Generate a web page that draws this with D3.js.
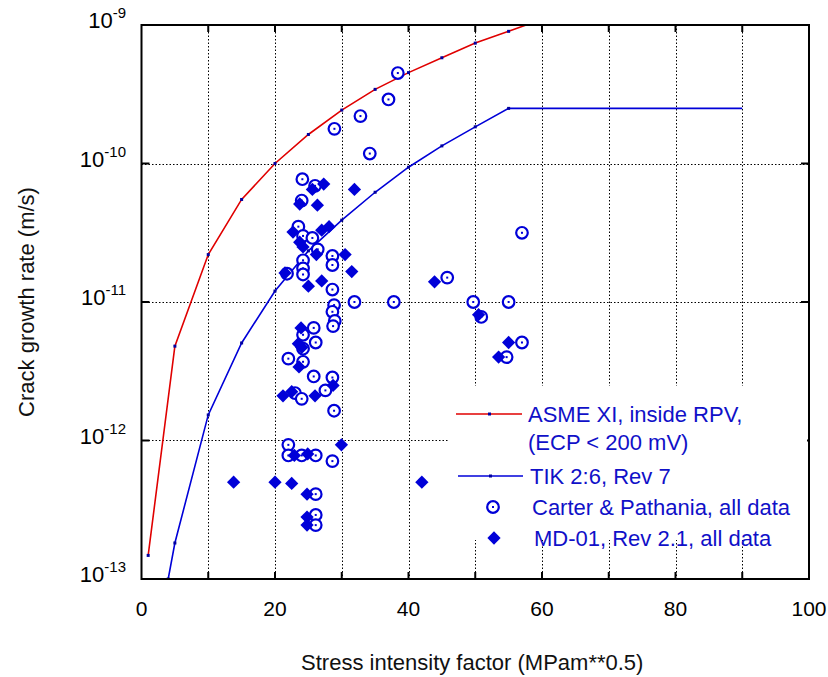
<!DOCTYPE html>
<html lang="en">
  <head>
    <title>Crack growth rate vs stress intensity factor</title>
    <script src="https://d3js.org/d3.v7.min.js"></script>
    <style>
      body { margin: 0; background: #fff; }
      text { font-family: "Liberation Sans", Arial, sans-serif; }
    </style>
  </head>
  <body>
    <div id="content"></div>
    <script>
      // ASME XI, inside RPV (ECP < 200 mV) reference curve
      const asmeK = [1, 5, 10, 15, 20, 25, 30, 35, 40, 45, 50, 55, 60];
      const asmeRate = [1.48e-13, 4.8e-12, 2.2e-11, 5.5e-11, 1.0e-10, 1.62e-10,
        2.43e-10, 3.43e-10, 4.53e-10, 5.8e-10, 7.4e-10, 9.0e-10, 1.1e-9];

      // TIK 2:6, Rev 7 curve
      const tikK = [4, 5, 10, 15, 20, 25, 30, 35, 40, 45, 50, 55, 90];
      const tikRate = [1.0e-13, 1.82e-13, 1.53e-12, 5.06e-12, 1.2e-11, 2.34e-11,
        3.9e-11, 6.2e-11, 9.4e-11, 1.34e-10, 1.84e-10, 2.5e-10, 2.5e-10];

      // Carter & Pathania, all data
      const carterK = [38.4, 37, 32.8, 28.9, 34.2, 24.1, 26.0, 24.0, 23.5, 24.2,
        25.6, 26.4, 28.6, 28.6, 24.2, 24.2, 24.2, 21.8, 28.6, 31.9,
        28.85, 28.6, 28.95, 28.7, 25.8, 24.2, 26.1, 24.2, 22.0, 24.2,
        25.8, 28.6, 27.55, 23.0, 24.0, 28.85, 22.0, 22.0, 24.0, 26.1,
        28.6, 26.1, 26.1, 26.1, 57, 45.8, 37.8, 49.7, 55, 50.9, 57, 54.7];
      const carterRate = [4.5e-10, 2.9e-10, 2.2e-10, 1.78e-10, 1.18e-10, 7.7e-11, 6.9e-11, 5.4e-11, 3.5e-11, 3.0e-11,
        2.9e-11, 2.4e-11, 2.15e-11, 1.85e-11, 2.0e-11, 1.75e-11, 1.58e-11, 1.6e-11, 1.23e-11, 1.0e-11,
        9.5e-12, 8.5e-12, 7.3e-12, 6.7e-12, 6.5e-12, 5.8e-12, 5.1e-12, 4.6e-12, 3.9e-12, 3.7e-12,
        2.9e-12, 2.85e-12, 2.3e-12, 2.2e-12, 2.0e-12, 1.64e-12, 9.3e-13, 7.8e-13, 7.8e-13, 7.8e-13,
        7.1e-13, 4.1e-13, 2.9e-13, 2.45e-13, 3.16e-11, 1.5e-11, 1.0e-11, 1.0e-11, 1.0e-11, 7.8e-12, 5.1e-12, 4.0e-12];

      // MD-01, Rev 2.1, all data
      const mdK = [27.3, 25.6, 31.9, 23.7, 26.35, 22.7, 27.0, 28.1, 23.7, 24.2,
        26.2, 30.5, 31.5, 21.5, 27.0, 25.0, 43.9, 50.5, 55, 53.5,
        23.9, 23.5, 24.0, 23.6, 28.7, 21.2, 22.5, 26.0, 29.95, 22.9,
        24.9, 13.8, 20.0, 22.5, 42.0, 24.8, 24.8, 24.8];
      const mdRate = [7.1e-11, 6.5e-11, 6.5e-11, 5.1e-11, 5.0e-11, 3.2e-11, 3.3e-11, 3.5e-11, 2.7e-11, 2.5e-11,
        2.2e-11, 2.2e-11, 1.66e-11, 1.62e-11, 1.42e-11, 1.3e-11, 1.4e-11, 8.1e-12, 5.1e-12, 4.0e-12,
        6.5e-12, 5.0e-12, 4.7e-12, 3.4e-12, 2.5e-12, 2.1e-12, 2.25e-12, 2.1e-12, 9.3e-13, 7.8e-13,
        8.0e-13, 5.0e-13, 5.0e-13, 4.9e-13, 5.0e-13, 4.1e-13, 2.8e-13, 2.45e-13];

      const xTickLabels = [0, 20, 40, 60, 80, 100];
      const xGrid = [10, 20, 30, 40, 50, 60, 70, 80, 90];
      const yExponents = [-9, -10, -11, -12, -13];

      const legendLabels = [
        ["ASME XI, inside RPV,", "(ECP < 200 mV)"],
        ["TIK 2:6, Rev 7"],
        ["Carter & Pathania, all data"],
        ["MD-01, Rev 2.1, all data"],
      ];

      const blue = "#0000d8";
      const red = "#e00000";
      const textBlue = "#1010c8";

      const width = 828;
      const height = 677;
      const marginLeft = 141.5, plotRight = 809, marginTop = 25, plotBottom = 579;

      const x = d3.scaleLinear().domain([0, 100]).range([marginLeft, plotRight]);
      const y = d3.scaleLog().domain([1e-13, 1e-9]).range([plotBottom, marginTop]);

      const svg = d3
        .select("#content")
        .append("svg")
        .attr("width", width)
        .attr("height", height);

      svg.append("defs")
        .append("clipPath")
        .attr("id", "plot")
        .append("rect")
        .attr("x", marginLeft)
        .attr("y", marginTop)
        .attr("width", plotRight - marginLeft)
        .attr("height", plotBottom - marginTop);

      // dotted grid
      const grid = svg.append("g")
        .attr("stroke", "#000")
        .attr("stroke-width", 1)
        .attr("stroke-dasharray", "1.5,2");
      grid.selectAll("line.vx")
        .data(xGrid)
        .enter()
        .append("line")
        .attr("x1", (d) => Math.round(x(d)) + 0.5)
        .attr("x2", (d) => Math.round(x(d)) + 0.5)
        .attr("y1", marginTop)
        .attr("y2", plotBottom);
      grid.selectAll("line.hy")
        .data(yExponents.slice(1, 4))
        .enter()
        .append("line")
        .attr("x1", marginLeft)
        .attr("x2", plotRight)
        .attr("y1", (d) => Math.round(y(Math.pow(10, d))) + 0.5)
        .attr("y2", (d) => Math.round(y(Math.pow(10, d))) + 0.5);

      // tick marks inside the frame
      const ticks = svg.append("g").attr("stroke", "#000").attr("stroke-width", 2);
      xGrid.forEach((d) => {
        ticks.append("line").attr("x1", x(d)).attr("x2", x(d)).attr("y1", plotBottom).attr("y2", plotBottom - 7);
        ticks.append("line").attr("x1", x(d)).attr("x2", x(d)).attr("y1", marginTop).attr("y2", marginTop + 7);
      });
      yExponents.slice(1, 4).forEach((e) => {
        const yy = y(Math.pow(10, e));
        ticks.append("line").attr("x1", marginLeft).attr("x2", marginLeft + 8).attr("y1", yy).attr("y2", yy);
        ticks.append("line").attr("x1", plotRight).attr("x2", plotRight - 8).attr("y1", yy).attr("y2", yy);
      });

      // legend box hides the grid beneath it
      const legendX = 448, legendY = 386;
      svg.append("rect")
        .attr("x", legendX)
        .attr("y", legendY)
        .attr("width", plotRight - 2 - legendX)
        .attr("height", 154)
        .attr("fill", "#fff");

      const plot = svg.append("g").attr("clip-path", "url(#plot)");

      const line = d3.line()
        .x((d) => x(d[0]))
        .y((d) => y(d[1]));

      const asme = asmeK.map((k, i) => [k, asmeRate[i]]);
      const tik = tikK.map((k, i) => [k, tikRate[i]]);

      plot.append("path")
        .datum(asme)
        .attr("fill", "none")
        .attr("stroke", red)
        .attr("stroke-width", 1.6)
        .attr("d", line);
      plot.append("path")
        .datum(tik)
        .attr("fill", "none")
        .attr("stroke", blue)
        .attr("stroke-width", 1.6)
        .attr("d", line);

      // small node dots on the curves
      plot.selectAll("rect.node")
        .data(asme.concat(tik.slice(0, tik.length - 1)))
        .enter()
        .append("rect")
        .attr("x", (d) => x(d[0]) - 1.5)
        .attr("y", (d) => y(d[1]) - 1.5)
        .attr("width", 3)
        .attr("height", 3)
        .attr("fill", "#0000a0");

      const circleMark = (g, cx, cy) => {
        g.append("circle")
          .attr("cx", cx)
          .attr("cy", cy)
          .attr("r", 5.8)
          .attr("fill", "#fff")
          .attr("stroke", blue)
          .attr("stroke-width", 2.2);
        g.append("rect")
          .attr("x", cx - 1)
          .attr("y", cy - 1)
          .attr("width", 2)
          .attr("height", 2)
          .attr("fill", blue);
      };
      const diamond = d3.symbol(d3.symbolSquare, 88);
      const diamondMark = (g, cx, cy) => {
        g.append("path")
          .attr("d", diamond)
          .attr("transform", `translate(${cx},${cy}) rotate(45)`)
          .attr("fill", blue);
      };

      const marks = svg.append("g");
      carterK.forEach((k, i) => circleMark(marks, x(k), y(carterRate[i])));
      mdK.forEach((k, i) => diamondMark(marks, x(k), y(mdRate[i])));

      // frame
      svg.append("rect")
        .attr("x", marginLeft)
        .attr("y", marginTop)
        .attr("width", plotRight - marginLeft)
        .attr("height", plotBottom - marginTop)
        .attr("fill", "none")
        .attr("stroke", "#000")
        .attr("stroke-width", 2);

      // axis labels
      svg.append("g")
        .selectAll("text")
        .data(xTickLabels)
        .enter()
        .append("text")
        .attr("x", (d) => x(d))
        .attr("y", 616)
        .attr("text-anchor", "middle")
        .attr("font-size", 21)
        .attr("fill", "#000")
        .text((d) => d);

      const yl = svg.append("g")
        .selectAll("text")
        .data(yExponents)
        .enter()
        .append("text")
        .attr("x", 126)
        .attr("y", (d) => y(Math.pow(10, d)) + 3)
        .attr("text-anchor", "end")
        .attr("font-size", 22)
        .attr("fill", "#000");
      yl.append("tspan").text("10");
      yl.append("tspan")
        .attr("dy", -10)
        .attr("font-size", 15)
        .text((d) => d);

      svg.append("text")
        .attr("x", (marginLeft + plotRight) / 2 - 3)
        .attr("y", 670)
        .attr("text-anchor", "middle")
        .attr("font-size", 22)
        .attr("fill", "#111")
        .text("Stress intensity factor (MPam**0.5)");

      svg.append("text")
        .attr("transform", `translate(34,${(marginTop + plotBottom) / 2}) rotate(-90)`)
        .attr("text-anchor", "middle")
        .attr("font-size", 22)
        .attr("fill", "#111")
        .text("Crack growth rate (m/s)");

      // legend
      const lg = svg.append("g");
      lg.append("line").attr("x1", 456).attr("x2", 522).attr("y1", 414).attr("y2", 414)
        .attr("stroke", red).attr("stroke-width", 1.6);
      lg.append("rect").attr("x", 488).attr("y", 412.5).attr("width", 3).attr("height", 3).attr("fill", "#0000a0");
      lg.append("line").attr("x1", 458).attr("x2", 523).attr("y1", 476).attr("y2", 476)
        .attr("stroke", blue).attr("stroke-width", 1.6);
      lg.append("rect").attr("x", 489).attr("y", 474.5).attr("width", 3).attr("height", 3).attr("fill", "#0000a0");
      circleMark(lg, 493, 507);
      diamondMark(lg, 494, 538);

      const legendRows = [[528, 422], [530, 484], [532, 515], [534, 546]];
      legendLabels.forEach((lines, i) => {
        const t = lg.append("text")
          .attr("x", legendRows[i][0])
          .attr("y", legendRows[i][1])
          .attr("font-size", 22)
          .attr("fill", textBlue);
        lines.forEach((s, j) => {
          t.append("tspan")
            .attr("x", legendRows[i][0])
            .attr("dy", j === 0 ? 0 : 28)
            .text(s);
        });
      });
    </script>
  </body>
</html>
